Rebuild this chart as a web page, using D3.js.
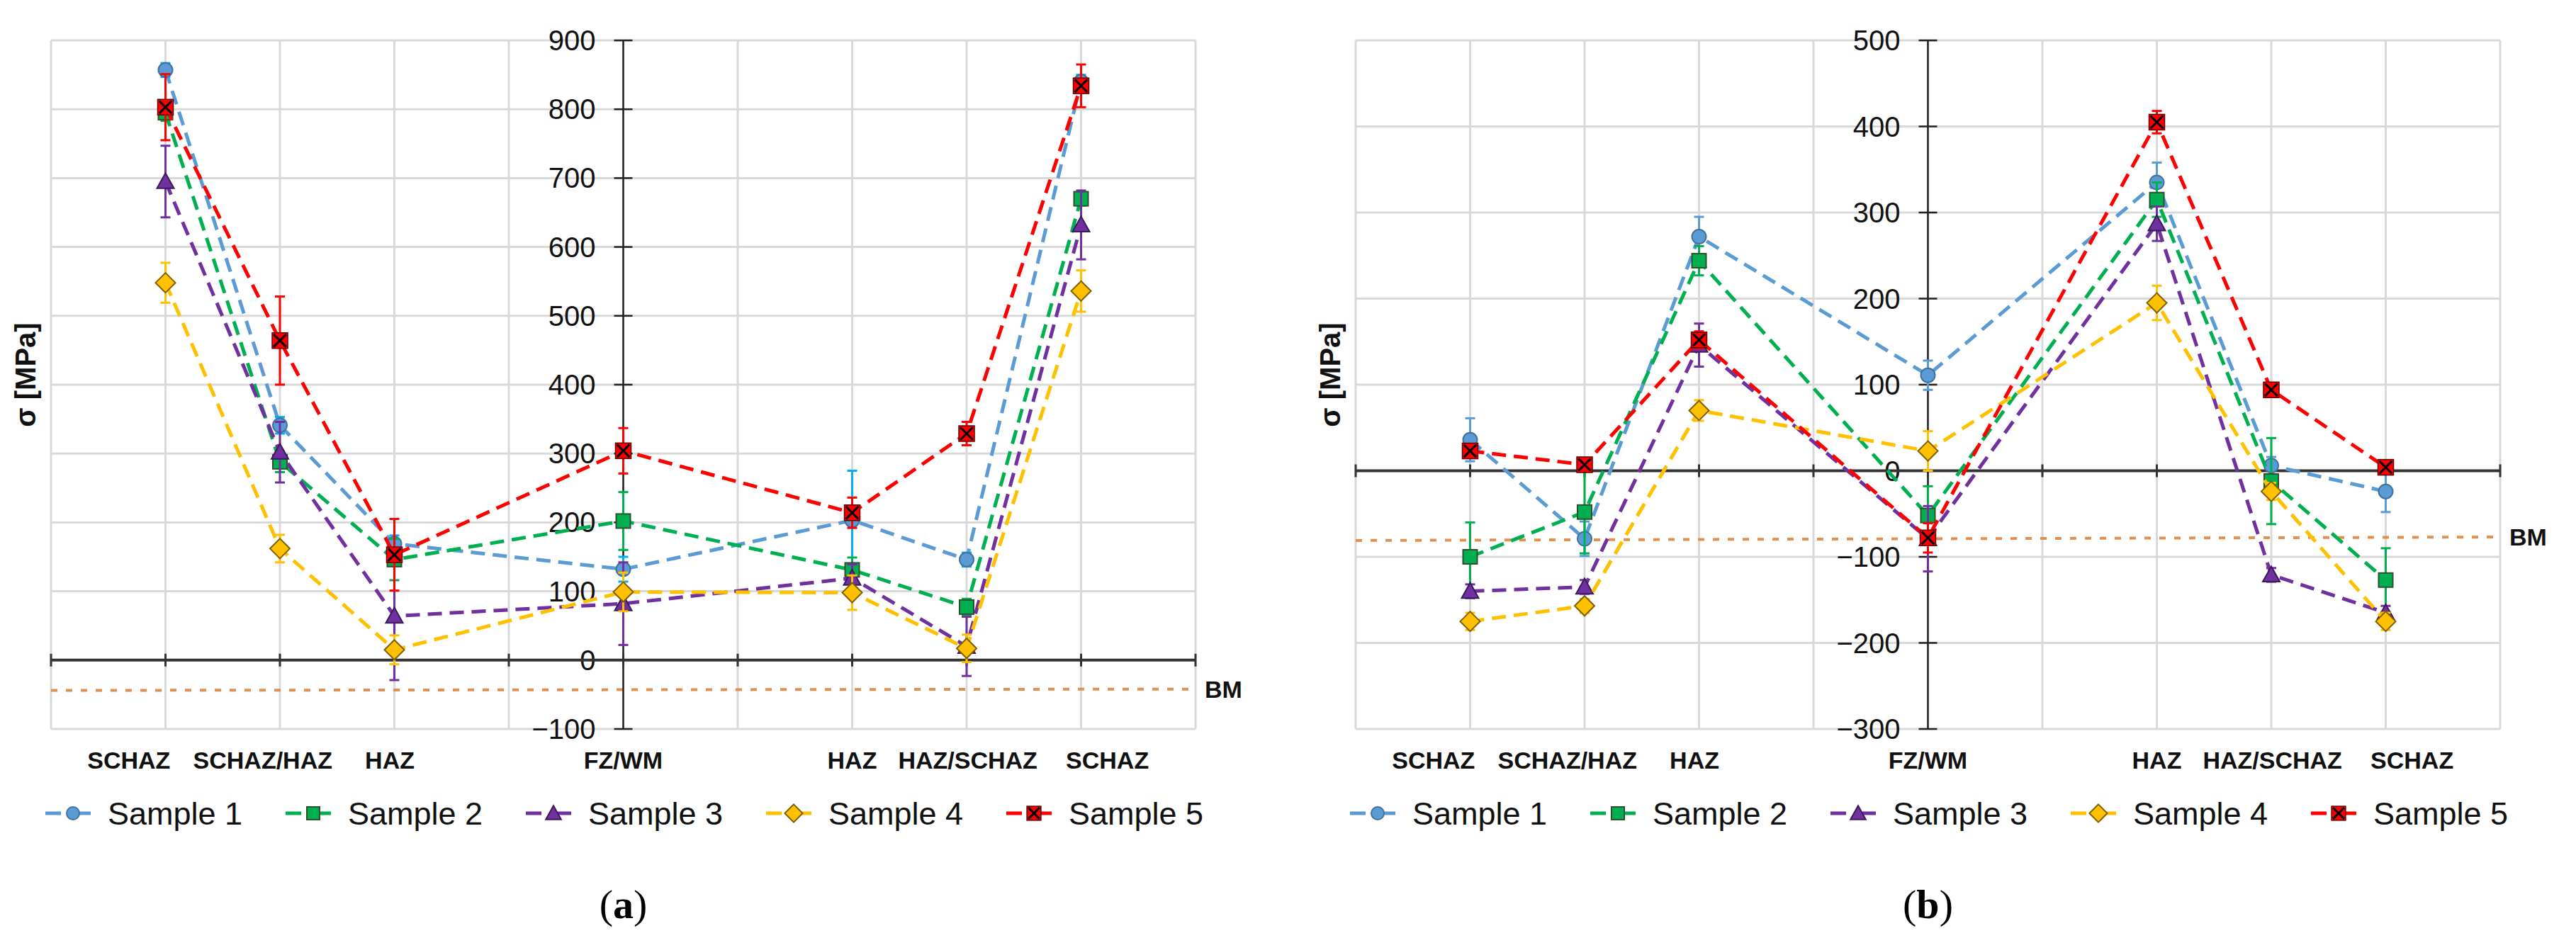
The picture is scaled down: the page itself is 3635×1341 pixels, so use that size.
<!DOCTYPE html>
<html>
<head>
<meta charset="utf-8">
<script src="https://cdn.jsdelivr.net/npm/d3@7"></script>
<style>
  body { margin: 0; background: #fff; }
  svg { display: block; }
</style>
</head>
<body>
<svg id="chart" width="3635" height="1341"></svg>
<script>
// categories along the weld, placed on a 0..10 slot axis
const categories = ['SCHAZ', 'SCHAZ/HAZ', 'HAZ', 'FZ/WM', 'HAZ', 'HAZ/SCHAZ', 'SCHAZ'];
const slots = [1, 2, 3, 5, 7, 8, 9];
const labelShift = [-0.32, -0.15, -0.04, 0, 0, 0.01, 0.23];
const seriesNames = ['Sample 1', 'Sample 2', 'Sample 3', 'Sample 4', 'Sample 5'];

// panel (a) stresses [MPa]
const a1 = [857, 341, 169, 132, 203, 146, 840];
const a2 = [795, 288, 146, 202, 131, 77, 670];
const a3 = [695, 302, 64, 82, 119, 20, 632];
const a4 = [548, 162, 15, 99, 98, 17, 536];
const a5 = [803, 464, 153, 304, 214, 329, 834];
const aErr1 = [10, 12, 12, 18, 72, 10, 10];
const aErr2 = [12, 15, 30, 42, 18, 12, 10];
const aErr3 = [52, 44, 93, 60, 20, 43, 50];
const aErr4 = [29, 20, 21, 28, 25, 20, 30];
const aErr5 = [48, 64, 52, 33, 22, 17, 31];
const aBM = [-44, -42];
const aTicks = [-100, 0, 100, 200, 300, 400, 500, 600, 700, 800, 900];

// panel (b) stresses [MPa]
const b1 = [36, -79, 272, 111, 335, 6, -24];
const b2 = [-100, -48, 244, -52, 315, -12, -127];
const b3 = [-140, -135, 146, -79, 287, -121, -165];
const b4 = [-175, -157, 70, 23, 195, -24, -175];
const b5 = [23, 7, 152, -78, 405, 94, 4];
const bErr1 = [25, 20, 23, 17, 23, 10, 24];
const bErr2 = [40, 48, 17, 34, 20, 50, 37];
const bErr3 = [8, 8, 25, 38, 20, 8, 8];
const bErr4 = [10, 8, 12, 23, 20, 10, 10];
const bErr5 = [8, 8, 10, 17, 13, 6, 6];
const bBM = [-81, -77];
const bTicks = [-300, -200, -100, 0, 100, 200, 300, 400, 500];

const colors = ['#5b9bd5', '#00b050', '#7030a0', '#ffc000', '#ff0000'];
const shapes = ['circle', 'square', 'triangle', 'diamond', 'xsquare'];

const svg = d3.select('#chart');
const SANS = '"Liberation Sans", Arial, sans-serif';

function marker(g, shape, color, x, y, s) {
  if (shape === 'circle') {
    g.append('circle').attr('cx', x).attr('cy', y).attr('r', s * 0.5)
      .attr('fill', color).attr('stroke', '#41719c').attr('stroke-width', 2);
  } else if (shape === 'square') {
    g.append('rect').attr('x', x - s / 2).attr('y', y - s / 2).attr('width', s).attr('height', s)
      .attr('fill', color).attr('stroke', '#2f4f2f').attr('stroke-width', 2);
  } else if (shape === 'triangle') {
    const h = s * 0.6;
    g.append('path').attr('d', `M${x},${y - h}L${x + h},${y + h * 0.8}L${x - h},${y + h * 0.8}Z`)
      .attr('fill', color).attr('stroke', '#3b1a5a').attr('stroke-width', 2);
  } else if (shape === 'diamond') {
    const h = s * 0.7;
    g.append('path').attr('d', `M${x},${y - h}L${x + h},${y}L${x},${y + h}L${x - h},${y}Z`)
      .attr('fill', color).attr('stroke', '#7f6000').attr('stroke-width', 2);
  } else {
    const h = s * 0.55;
    g.append('rect').attr('x', x - h).attr('y', y - h).attr('width', 2 * h).attr('height', 2 * h)
      .attr('fill', color).attr('stroke', '#600').attr('stroke-width', 1.5);
    g.append('path').attr('d', `M${x - h * 0.8},${y - h * 0.8}L${x + h * 0.8},${y + h * 0.8}M${x + h * 0.8},${y - h * 0.8}L${x - h * 0.8},${y + h * 0.8}`)
      .attr('stroke', '#000').attr('stroke-width', 3);
  }
}

function drawPanel(p) {
  const x = d3.scaleLinear().domain([0, 10]).range([p.left, p.right]);
  const y = d3.scaleLinear().domain([p.ticks[0], p.ticks[p.ticks.length - 1]]).range([p.bottom, p.top]);
  const g = svg.append('g');

  // grid
  g.selectAll('.hg').data(p.ticks).join('line')
    .attr('x1', x(0)).attr('x2', x(10)).attr('y1', d => y(d)).attr('y2', d => y(d))
    .attr('stroke', '#d9d9d9').attr('stroke-width', 3);
  g.selectAll('.vg').data(d3.range(0, 11)).join('line')
    .attr('x1', d => x(d)).attr('x2', d => x(d)).attr('y1', y.range()[0]).attr('y2', y.range()[1])
    .attr('stroke', '#d9d9d9').attr('stroke-width', 3);

  // base metal reference line
  g.append('line')
    .attr('x1', x(0)).attr('x2', x(10)).attr('y1', y(p.bm[0])).attr('y2', y(p.bm[1]))
    .attr('stroke', '#e0904f').attr('stroke-width', 4).attr('stroke-dasharray', '9,12');
  g.append('text').attr('x', x(10) + 13).attr('y', y(p.bm[1]))
    .attr('dominant-baseline', 'central').attr('font-family', SANS).attr('font-weight', 'bold')
    .attr('font-size', 34).attr('fill', '#111').text('BM');

  // y axis through FZ/WM
  const ax = x(5);
  g.append('line').attr('x1', ax).attr('x2', ax).attr('y1', y.range()[0]).attr('y2', y.range()[1])
    .attr('stroke', '#222').attr('stroke-width', 2.5);
  g.selectAll('.yt').data(p.ticks).join('line')
    .attr('x1', ax - 13).attr('x2', ax + 13).attr('y1', d => y(d)).attr('y2', d => y(d))
    .attr('stroke', '#222').attr('stroke-width', 2.5);
  g.selectAll('.yl').data(p.ticks).join('text')
    .attr('x', ax - 39).attr('y', d => y(d)).attr('text-anchor', 'end')
    .attr('dominant-baseline', 'central').attr('font-family', SANS).attr('font-size', 40)
    .attr('fill', '#111').text(d => d3.format('d')(d).replace('-', '\u2212'));

  // x axis at zero
  g.append('line').attr('x1', x(0)).attr('x2', x(10)).attr('y1', y(0)).attr('y2', y(0))
    .attr('stroke', '#333').attr('stroke-width', 4);
  g.selectAll('.xt').data(d3.range(0, 11)).join('line')
    .attr('x1', d => x(d)).attr('x2', d => x(d)).attr('y1', y(0) - 9).attr('y2', y(0) + 9)
    .attr('stroke', '#333').attr('stroke-width', 3);

  // category labels
  g.selectAll('.cl').data(categories).join('text')
    .attr('x', (d, i) => x(slots[i] + labelShift[i])).attr('y', 1073)
    .attr('text-anchor', 'middle').attr('dominant-baseline', 'central')
    .attr('font-family', SANS).attr('font-weight', 'bold').attr('font-size', 34)
    .attr('fill', '#111').text(d => d);

  // y title
  g.append('text').attr('transform', `translate(${p.left - 36},529) rotate(-90)`)
    .attr('text-anchor', 'middle').attr('dominant-baseline', 'central')
    .attr('font-family', SANS).attr('font-weight', 'bold').attr('font-size', 40)
    .attr('fill', '#111').text('\u03c3 [MPa]');

  // series
  const line = d3.line().x((d, i) => x(slots[i])).y(d => y(d));
  p.series.forEach((vals, s) => {
    const sg = g.append('g');
    sg.append('path').datum(vals).attr('d', line).attr('fill', 'none')
      .attr('stroke', colors[s]).attr('stroke-width', 5).attr('stroke-dasharray', '20,11');
    const ec = p.errColors ? p.errColors[s] : colors[s];
    vals.forEach((v, i) => {
      const e = p.errors[s][i], xx = x(slots[i]);
      sg.append('line').attr('x1', xx).attr('x2', xx).attr('y1', y(v - e)).attr('y2', y(v + e))
        .attr('stroke', ec).attr('stroke-width', 3);
      [v - e, v + e].forEach(t => sg.append('line')
        .attr('x1', xx - 7).attr('x2', xx + 7).attr('y1', y(t)).attr('y2', y(t))
        .attr('stroke', ec).attr('stroke-width', 3));
    });
    vals.forEach((v, i) => marker(sg, shapes[s], colors[s], x(slots[i]), y(v), 20));
  });

  // legend
  seriesNames.forEach((name, s) => {
    const mx = p.left + 31 + s * 339, my = 1148;
    const lg = g.append('g');
    lg.append('line').attr('x1', mx - 39).attr('x2', mx - 17).attr('y1', my).attr('y2', my)
      .attr('stroke', colors[s]).attr('stroke-width', 5);
    lg.append('line').attr('x1', mx + 6).attr('x2', mx + 25).attr('y1', my).attr('y2', my)
      .attr('stroke', colors[s]).attr('stroke-width', 5);
    marker(lg, shapes[s], colors[s], mx, my, 18);
    lg.append('text').attr('x', mx + 49).attr('y', my).attr('dominant-baseline', 'central')
      .attr('font-family', SANS).attr('font-size', 45).attr('fill', '#111').text(name);
  });

  // panel tag
  const tag = g.append('text').attr('x', ax).attr('y', 1276).attr('text-anchor', 'middle')
    .attr('dominant-baseline', 'central').attr('font-family', '"Liberation Serif", "DejaVu Serif", serif')
    .attr('font-size', 58).attr('fill', '#000');
  tag.append('tspan').text('(');
  tag.append('tspan').attr('font-weight', 'bold').text(p.tag);
  tag.append('tspan').text(')');
}

drawPanel({
  left: 72, right: 1687, top: 57, bottom: 1029, ticks: aTicks, bm: aBM, tag: 'a',
  series: [a1, a2, a3, a4, a5], errors: [aErr1, aErr2, aErr3, aErr4, aErr5],
  errColors: ['#00b0f0', colors[1], colors[2], colors[3], colors[4]]
});
drawPanel({
  left: 1913, right: 3528, top: 57, bottom: 1029, ticks: bTicks, bm: bBM, tag: 'b',
  series: [b1, b2, b3, b4, b5], errors: [bErr1, bErr2, bErr3, bErr4, bErr5]
});
</script>
</body>
</html>
